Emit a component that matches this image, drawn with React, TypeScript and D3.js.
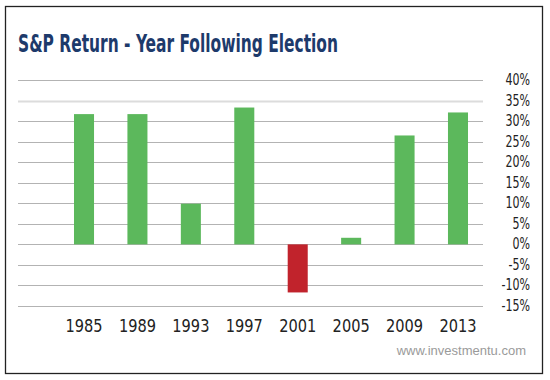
import React from "react";
import * as d3 from "d3";

const years = ["1985", "1989", "1993", "1997", "2001", "2005", "2009", "2013"];
const returns = [31.7, 31.7, 9.9, 33.3, -11.7, 1.6, 26.5, 32.1];
const yTicks = [-15, -10, -5, 0, 5, 10, 15, 20, 25, 30, 35, 40];

const W = 550;
const H = 380;
const narrow = "'Liberation Sans Narrow', 'DejaVu Sans Condensed', 'Arial Narrow', sans-serif";

export default function App() {
  const x = d3
    .scaleBand<string>()
    .domain(years)
    .range([57.3, 484.7])
    .paddingInner(0.625)
    .paddingOuter(0.3125);
  const y = d3.scaleLinear().domain([-15, 40]).range([306, 80]);

  return (
    <svg
      width={W}
      height={H}
      style={{ position: "absolute", left: 0, top: 0, background: "#fff" }}
    >
      <rect x={0} y={0} width={W} height={H} fill="#fff" />
      <rect x={5.5} y={6.5} width={537} height={367} fill="none" stroke="#222" strokeWidth={1.3} />
      <text
        x={18}
        y={52}
        fontFamily={narrow}
        fontWeight="bold"
        fontSize={25}
        fill="#1d3a6b"
        textLength={320}
        lengthAdjust="spacingAndGlyphs"
      >
        S&amp;P Return - Year Following Election
      </text>
      {yTicks.map((t) => (
        <g key={t}>
          <line
            x1={18}
            x2={483}
            y1={Math.round(y(t)) + 0.5}
            y2={Math.round(y(t)) + 0.5}
            stroke={t === 35 ? "#dcdcdc" : "#b3b3b3"}
            strokeWidth={t === 35 ? 2 : 1}
          />
          <g transform={`translate(530,${y(t) + 5}) scale(0.82,1)`}>
            <text
              x={0}
              y={0}
              textAnchor="end"
              fontFamily={narrow}
              fontSize={15}
              fill="#222"
            >
              {t}%
            </text>
          </g>
        </g>
      ))}
      {years.map((yr, i) => {
        const v = returns[i];
        const y0 = y(0);
        const y1 = y(v);
        return (
          <rect
            key={yr}
            x={x(yr)}
            y={Math.min(y0, y1)}
            width={x.bandwidth()}
            height={Math.abs(y1 - y0)}
            fill={v >= 0 ? "#5cb85c" : "#c1232c"}
          />
        );
      })}
      {years.map((yr) => (
        <g
          key={yr}
          transform={`translate(${(x(yr) as number) + x.bandwidth() / 2},332) scale(0.9,1)`}
        >
          <text
            x={0}
            y={0}
            textAnchor="middle"
            fontFamily={narrow}
            fontSize={18}
            fill="#222"
          >
            {yr}
          </text>
        </g>
      ))}
      <text
        x={526}
        y={355}
        textAnchor="end"
        fontFamily="'Liberation Sans', Arial, sans-serif"
        fontSize={13}
        fill="#9a9a9a"
      >
        www.investmentu.com
      </text>
    </svg>
  );
}
